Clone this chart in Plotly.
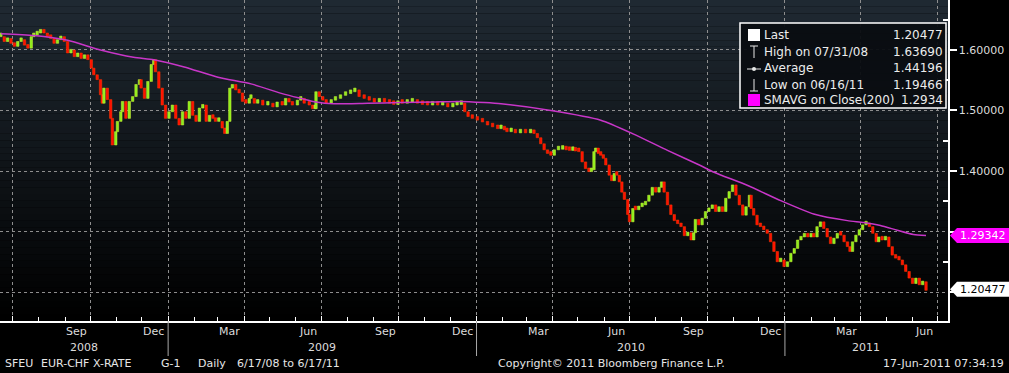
import plotly.graph_objects as go
import pandas as pd
import numpy as np

# ---------------- data ----------------
START = pd.Timestamp("2008-06-17")

# days since 17-Jun-2008 and EUR-CHF closes
day_offsets = [
    0, 4, 8, 12, 16, 20, 24, 28, 32, 36,
    39, 43, 47, 51, 55, 59, 63, 67, 71, 75,
    79, 83, 87, 91, 95, 99, 103, 107, 110, 114,
    118, 120, 122, 126, 130, 132, 136, 138, 142, 144,
    148, 152, 156, 160, 164, 166, 170, 174, 178, 181,
    183, 187, 191, 195, 199, 203, 207, 211, 215, 219,
    223, 227, 231, 235, 239, 243, 247, 251, 254, 258,
    262, 265, 268, 271, 274, 278, 282, 286, 290, 294,
    296, 300, 304, 310, 316, 322, 327, 333, 337, 341,
    345, 351, 355, 359, 365, 369, 372, 373, 377, 381,
    385, 391, 396, 402, 408, 414, 419, 424, 430, 436,
    442, 448, 454, 460, 465, 470, 475, 481, 487, 493,
    499, 505, 511, 517, 523, 529, 535, 540, 545, 549,
    553, 558, 564, 570, 576, 582, 588,
    592, 596, 599, 604, 609, 615, 621, 627, 631, 635,
    639, 643, 647, 651, 655, 660, 665, 669, 673, 677,
    680, 684, 688, 692, 696, 699, 702, 704, 707, 710,
    713, 716, 720, 723, 726, 729, 732, 735, 738, 742,
    744, 748, 751, 755, 759, 763, 767, 771, 775, 779,
    782, 785, 789, 793, 797, 801, 805, 809, 813, 817,
    820,
    822, 826, 830, 834, 838, 842, 846, 850, 854, 858,
    862, 866, 870, 874, 878, 882, 886, 888, 891, 895,
    899, 903, 907, 911, 915, 919, 923, 927, 931, 935,
    939, 943, 947, 951, 955, 959, 962, 966, 970, 974,
    978, 982, 986, 990, 994, 998, 1002, 1005, 1008, 1012,
    1016, 1020, 1024, 1028, 1032, 1036, 1039, 1043, 1047, 1051,
    1055, 1059, 1063, 1067, 1071, 1075, 1079, 1083, 1087, 1091,
    1095,
]
closes = [
    1.624, 1.616, 1.621, 1.613, 1.608, 1.616, 1.619, 1.610, 1.605, 1.624,
    1.627, 1.630, 1.635, 1.630, 1.624, 1.621, 1.613, 1.619, 1.624, 1.616,
    1.597, 1.602, 1.591, 1.597, 1.588, 1.594, 1.586, 1.572, 1.561, 1.553,
    1.528, 1.514, 1.539, 1.520, 1.489, 1.445, 1.467, 1.484, 1.500, 1.517,
    1.489, 1.517, 1.525, 1.545, 1.553, 1.539, 1.522, 1.550, 1.578, 1.586,
    1.566, 1.539, 1.511, 1.489, 1.500, 1.511, 1.489, 1.478, 1.500, 1.489,
    1.517, 1.494, 1.484, 1.506, 1.511, 1.484, 1.494, 1.489, 1.484, 1.484,
    1.473, 1.464, 1.484, 1.539, 1.545, 1.536, 1.531, 1.517, 1.514, 1.522,
    1.522, 1.514, 1.519, 1.511, 1.514, 1.508, 1.516, 1.511, 1.522, 1.516,
    1.511, 1.519, 1.522, 1.514, 1.511, 1.505, 1.505, 1.533, 1.525, 1.519,
    1.514, 1.519, 1.522, 1.527, 1.530, 1.533, 1.536, 1.525, 1.522, 1.519,
    1.516, 1.517, 1.516, 1.514, 1.512, 1.516, 1.514, 1.516, 1.517, 1.514,
    1.512, 1.511, 1.512, 1.511, 1.512, 1.508, 1.511, 1.512, 1.514, 1.500,
    1.492, 1.489, 1.486, 1.483, 1.478, 1.475, 1.472,
    1.473, 1.470, 1.467, 1.467, 1.465, 1.466, 1.465, 1.466, 1.464, 1.457,
    1.447, 1.437, 1.431, 1.428, 1.437, 1.438, 1.440, 1.437, 1.436, 1.437,
    1.435, 1.434, 1.417, 1.406, 1.401, 1.404, 1.434, 1.440, 1.431, 1.428,
    1.423, 1.412, 1.395, 1.386, 1.398, 1.395, 1.384, 1.367, 1.355, 1.330,
    1.318, 1.340, 1.338, 1.343, 1.346, 1.352, 1.362, 1.375, 1.367, 1.375,
    1.384, 1.367, 1.346, 1.330, 1.320, 1.315, 1.310, 1.295, 1.300, 1.288,
    1.300,
    1.322, 1.313, 1.324, 1.335, 1.340, 1.346, 1.335, 1.343, 1.335, 1.357,
    1.368, 1.379, 1.362, 1.346, 1.329, 1.343, 1.362, 1.340, 1.329, 1.313,
    1.310, 1.305, 1.299, 1.285, 1.269, 1.252, 1.255, 1.244, 1.252, 1.266,
    1.274, 1.288, 1.293, 1.299, 1.293, 1.299, 1.293, 1.310, 1.318, 1.307,
    1.293, 1.282, 1.291, 1.299, 1.296, 1.285, 1.277, 1.269, 1.285, 1.296,
    1.305, 1.313, 1.315, 1.310, 1.299, 1.285, 1.293, 1.288, 1.293, 1.277,
    1.263, 1.258, 1.255, 1.247, 1.236, 1.225, 1.216, 1.225, 1.214, 1.219,
    1.20477,
]

# 200-day simple moving average
sma_day_offsets = [0, 39, 79, 118, 157, 181, 217, 257, 296, 335, 355, 373, 394,
                   434, 473, 512, 544, 572, 592, 651, 710, 749, 789, 828, 844,
                   884, 923, 962, 1002, 1021, 1041, 1061, 1080, 1095]
sma_values = [1.627, 1.624, 1.616, 1.600, 1.588, 1.584, 1.572, 1.555, 1.544,
              1.527, 1.520, 1.514, 1.511, 1.512, 1.513, 1.514, 1.515, 1.513,
              1.511, 1.500, 1.484, 1.461, 1.434, 1.409, 1.398, 1.376, 1.351,
              1.329, 1.318, 1.315, 1.310, 1.302, 1.295, 1.29342]

month_labels = ["Sep", "Dec", "Mar", "Jun", "Sep", "Dec", "Mar", "Jun",
                "Sep", "Dec", "Mar", "Jun"]
month_label_dates = ["2008-09-15", "2008-12-15", "2009-03-15", "2009-06-15",
                     "2009-09-15", "2009-12-15", "2010-03-15", "2010-06-15",
                     "2010-09-15", "2010-12-15", "2011-03-15", "2011-06-15"]
year_labels = ["2008", "2009", "2010", "2011"]
y_tick_values = [1.2, 1.3, 1.4, 1.5, 1.6]
y_tick_text = ["", "", "1.40000", "1.50000", "1.60000"]

legend_labels = ["Last", "High on 07/31/08", "Average", "Low on 06/16/11",
                 "SMAVG on Close(200)"]
legend_values = ["1.20477", "1.63690", "1.44196", "1.19466", "1.2934"]
last_value = 1.20477
sma_last_value = 1.29342

footer_left = [("SFEU", 3), ("EUR-CHF X-RATE", 39), ("G-1", 159),
               ("Daily", 196), ("6/17/08 to 6/17/11", 235)]
footer_center = "Copyright\u00a9 2011 Bloomberg Finance L.P."
footer_right = "17-Jun-2011 07:34:19"

assert len(day_offsets) == len(closes)
assert len(sma_day_offsets) == len(sma_values)

# ---------------- figure ----------------
W, H = 1009, 373
ML, MR, MT, MB = 0, 61, 0, 52
PW, PH = W - ML - MR, H - MT - MB
Y_RANGE = [1.1521, 1.6826]
X_RANGE = [START - pd.Timedelta(days=1), START + pd.Timedelta(days=1121)]
FONT = "DejaVu Sans"
TXT = "#dcdcdc"


def px_x(px):
    return px / PW


def px_y(py):
    return 1 - py / PH


dates = START + pd.to_timedelta(day_offsets, unit="D")
c = np.array(closes)
o = np.concatenate([[c[0]], c[:-1]])
base = np.minimum(o, c)
height = np.maximum(np.abs(c - o), 0.006)
up = c >= o
fill_cols = np.where(up, "#8cf01c", "#ff1000")
line_cols = np.where(up, "#d4f23a", "#ff3c00")

fig = go.Figure()
fig.add_trace(go.Bar(
    x=dates, y=height, base=base - 0.002, width=2.9 * 86400000,
    marker=dict(color=list(fill_cols), line=dict(color=list(line_cols), width=0.5)),
    hoverinfo="skip", showlegend=False,
))
sma_dates = START + pd.to_timedelta(sma_day_offsets, unit="D")
fig.add_trace(go.Scatter(
    x=sma_dates, y=sma_values, mode="lines",
    line=dict(color="#c836c8", width=1.5, shape="spline", smoothing=0.6),
    hoverinfo="skip", showlegend=False,
))

shapes = []
# background gradient of the plot area
N = 48
for i in range(N):
    t = (i + 0.5) / N
    col = f"rgb({int(32 * t)},{int(42 * t)},{int(51 * t)})"
    shapes.append(dict(type="rect", xref="paper", yref="paper", x0=0, x1=1,
                       y0=i / N, y1=(i + 1) / N, fillcolor=col,
                       line=dict(width=0), layer="below"))

# year separators below the axis
for yr in ["2009-01-01", "2010-01-01", "2011-01-01"]:
    shapes.append(dict(type="line", xref="x", yref="paper", x0=yr, x1=yr,
                       y0=0, y1=(PH - 356) / PH, line=dict(color="#a8a8a8", width=1)))

# legend box
shapes.append(dict(type="rect", xref="paper", yref="paper",
                   x0=px_x(740), x1=px_x(946), y0=px_y(108), y1=px_y(23),
                   fillcolor="rgba(10,13,17,0.95)", line=dict(color="white", width=1.5)))
# legend icons
shapes.append(dict(type="rect", xref="paper", yref="paper", x0=px_x(748), x1=px_x(760),
                   y0=px_y(41), y1=px_y(29), fillcolor="white", line=dict(width=0)))
shapes.append(dict(type="rect", xref="paper", yref="paper", x0=px_x(748), x1=px_x(760),
                   y0=px_y(106), y1=px_y(94), fillcolor="#ff00ff", line=dict(width=0)))
icol = "#e8e8e8"
shapes += [
    dict(type="line", xref="paper", yref="paper", x0=px_x(750), x1=px_x(758),
         y0=px_y(46), y1=px_y(46), line=dict(color=icol, width=1)),
    dict(type="line", xref="paper", yref="paper", x0=px_x(754), x1=px_x(754),
         y0=px_y(46), y1=px_y(58), line=dict(color=icol, width=1)),
    dict(type="line", xref="paper", yref="paper", x0=px_x(747), x1=px_x(761),
         y0=px_y(69), y1=px_y(69), line=dict(color=icol, width=1)),
    dict(type="circle", xref="paper", yref="paper", x0=px_x(752), x1=px_x(756),
         y0=px_y(71), y1=px_y(67), fillcolor=icol, line=dict(width=0)),
    dict(type="line", xref="paper", yref="paper", x0=px_x(754), x1=px_x(754),
         y0=px_y(79), y1=px_y(91), line=dict(color=icol, width=1)),
    dict(type="line", xref="paper", yref="paper", x0=px_x(750), x1=px_x(758),
         y0=px_y(91), y1=px_y(91), line=dict(color=icol, width=1)),
]

# right-axis value tags
hh = 7.5 * (Y_RANGE[1] - Y_RANGE[0]) / PH
for val, fc in [(sma_last_value, "#ff00ff"), (last_value, "#ffffff")]:
    xp, xb, xr = px_x(950), px_x(957), px_x(1009)
    path = (f"M {xp},{val} L {xb},{val + hh} L {xr},{val + hh} "
            f"L {xr},{val - hh} L {xb},{val - hh} Z")
    shapes.append(dict(type="path", xref="paper", yref="y", path=path,
                       fillcolor=fc, line=dict(width=0), layer="above"))

annotations = []
for lab, d in zip(month_labels, month_label_dates):
    annotations.append(dict(x=d, y=(PH - 331) / PH, xref="x", yref="paper",
                            text=lab, showarrow=False, xanchor="center", yanchor="middle",
                            font=dict(family=FONT, size=11, color=TXT)))
year_bounds = [X_RANGE[0], pd.Timestamp("2009-01-01"), pd.Timestamp("2010-01-01"),
               pd.Timestamp("2011-01-01"), X_RANGE[1]]
for i, lab in enumerate(year_labels):
    mid = year_bounds[i] + (year_bounds[i + 1] - year_bounds[i]) / 2
    annotations.append(dict(x=mid, y=(PH - 347) / PH, xref="x", yref="paper",
                            text=lab, showarrow=False, xanchor="center", yanchor="middle",
                            font=dict(family=FONT, size=11, color=TXT)))
fy = (PH - 363) / PH
for txt, xpx in footer_left:
    annotations.append(dict(x=px_x(xpx), y=fy, xref="paper", yref="paper", text=txt,
                            showarrow=False, xanchor="left", yanchor="middle",
                            font=dict(family=FONT, size=11, color="#e6e6e6")))
annotations.append(dict(x=px_x(496), y=fy, xref="paper", yref="paper", text=footer_center,
                        showarrow=False, xanchor="left", yanchor="middle",
                        font=dict(family=FONT, size=11, color="#e6e6e6")))
annotations.append(dict(x=px_x(1006), y=fy, xref="paper", yref="paper", text=footer_right,
                        showarrow=False, xanchor="right", yanchor="middle",
                        font=dict(family=FONT, size=11, color="#e6e6e6")))

row_y = [35, 52, 68, 85, 100]
for lab, val, ry in zip(legend_labels, legend_values, row_y):
    annotations.append(dict(x=px_x(762), y=px_y(ry), xref="paper", yref="paper", text=lab,
                            showarrow=False, xanchor="left", yanchor="middle",
                            font=dict(family=FONT, size=12, color="#ececec")))
    annotations.append(dict(x=px_x(945), y=px_y(ry), xref="paper", yref="paper", text=val,
                            showarrow=False, xanchor="right", yanchor="middle",
                            font=dict(family=FONT, size=12, color="#ececec")))

for val, tc in [(sma_last_value, "white"), (last_value, "black")]:
    annotations.append(dict(x=px_x(983), y=val, xref="paper", yref="y",
                            text=f"{val:.5f}", showarrow=False, xanchor="center",
                            yanchor="middle", font=dict(family=FONT, size=11, color=tc)))

quarters = pd.date_range("2008-07-01", "2011-07-01", freq="QS-JAN")
months = pd.date_range("2008-07-01", "2011-07-01", freq="MS")
grid = dict(gridcolor="#8e8e8e", gridwidth=1, griddash="3px,3px")

fig.update_layout(
    width=W, height=H,
    margin=dict(l=ML, r=MR, t=MT, b=MB, autoexpand=False),
    paper_bgcolor="black", plot_bgcolor="rgba(0,0,0,0)",
    showlegend=False, bargap=0, hovermode=False,
    font=dict(family=FONT, color=TXT),
    shapes=shapes, annotations=annotations,
    xaxis=dict(
        type="date", range=X_RANGE, tickmode="array", tickvals=list(quarters),
        showticklabels=False, ticks="inside", ticklen=5, tickcolor="white",
        showgrid=True, **grid, showline=True, linecolor="white", linewidth=1.5,
        zeroline=False, automargin=False,
        minor=dict(tickmode="array", tickvals=list(months), ticks="inside",
                   ticklen=4, tickcolor="white", showgrid=False),
    ),
    yaxis=dict(
        side="right", range=Y_RANGE, tickmode="array", tickvals=y_tick_values,
        ticktext=y_tick_text, ticks="outside", ticklen=7, tickwidth=2,
        tickcolor="white", tickfont=dict(family=FONT, size=11, color=TXT),
        showgrid=True, **grid, showline=True, linecolor="white", linewidth=1.5,
        zeroline=False, automargin=False,
        minor=dict(tickmode="array", tickvals=[1.25, 1.35, 1.45, 1.55, 1.65],
                   ticks="inside", ticklen=5, tickcolor="white", showgrid=False),
    ),
)

fig.write_html(
    "out.html",
    config={"displayModeBar": False, "staticPlot": True},
    post_script="document.body.style.margin='0';document.body.style.padding='0';"
                "document.body.style.overflow='hidden';",
)
